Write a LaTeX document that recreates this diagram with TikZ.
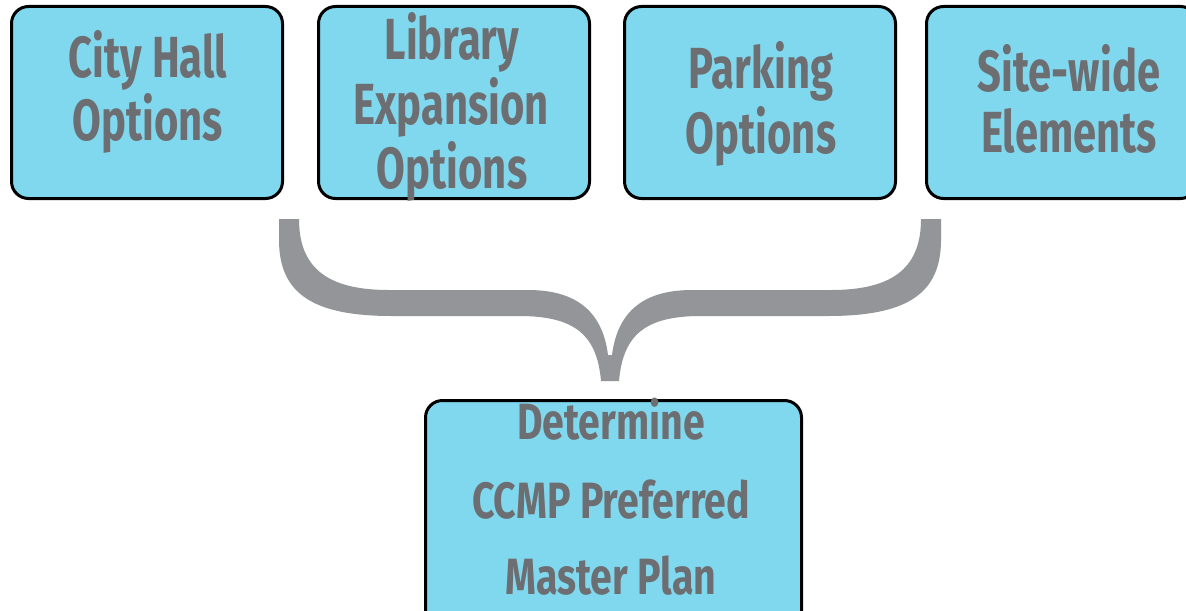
\documentclass[tikz,border=0pt]{standalone}
\usepackage{fontspec}
\newfontfamily\boxfont{Fira Sans}[FakeStretch=0.72]
\newfontfamily\botfont{Fira Sans}[FakeStretch=0.77]
\definecolor{boxfill}{HTML}{80D8EE}
\definecolor{txtgray}{HTML}{6D6E71}
\definecolor{bracegray}{HTML}{939598}
\tikzset{
  optbox/.style={draw=black, line width=1.5pt, fill=boxfill, rounded corners=8.5pt,
    inner sep=0pt, outer sep=0pt, minimum width=135.5pt, minimum height=96pt},
  toptxt/.style={anchor=base, inner sep=0pt, text=txtgray, font=\boxfont\bfseries\fontsize{29}{29}\selectfont},
  bottxt/.style={anchor=base, inner sep=0pt, text=txtgray, font=\botfont\bfseries\fontsize{25.5}{25.5}\selectfont},
  bracefill/.style={fill=bracegray, draw=none}
}
\begin{document}
\begin{tikzpicture}[x=0.5pt, y=-0.5pt]
\clip (0,0) rectangle (1186,610);
\fill[white] (0,0) rectangle (1186,610);
% boxes
\node[optbox] (b1) at (147,102.5) {};
\node[optbox] (b2) at (454,102.5) {};
\node[optbox] (b3) at (760,102.5) {};
\node[optbox] (b4) at (1062,102.5) {};
\node[optbox, minimum width=188pt, minimum height=130pt] (b5) at (613.5,530.5) {};
% texts
\node[toptxt] (t1a) at (148,77) {City Hall};
\node[toptxt] (t1b) at (148,140) {Options};
\node[toptxt] (t2a) at (452,60) {Library};
\node[toptxt] (t2b) at (451,125) {Expansion};
\node[toptxt] (t2c) at (452,188) {Options};
\node[toptxt] (t3a) at (761,89) {Parking};
\node[toptxt] (t3b) at (761,153) {Options};
\node[toptxt] (t4a) at (1069,91) {Site-wide};
\node[toptxt] (t4b) at (1069,152) {Elements};
\node[bottxt] (t5a) at (611,439) {Determine};
\node[bottxt] (t5b) at (611,518) {CCMP Preferred};
\node[bottxt] (t5c) at (611,594) {Master Plan};
% brace
\path[bracefill] (279,219) -- (279,240)
  .. controls (279,295) and (315,316) .. (392,316)
  -- (519,316)
  .. controls (575,316) and (597,335) .. (601,381)
  -- (619,381)
  .. controls (623,335) and (645,316) .. (701,316)
  -- (828,316)
  .. controls (905,316) and (941,295) .. (941,240)
  -- (941,219) -- (921,219)
  .. controls (921,270) and (890,290) .. (831,290)
  -- (692,290)
  .. controls (640,290) and (617,315) .. (612,355)
  -- (608,355)
  .. controls (603,315) and (580,290) .. (528,290)
  -- (389,290)
  .. controls (330,290) and (299,270) .. (299,219)
  -- cycle;
\end{tikzpicture}
\end{document}
